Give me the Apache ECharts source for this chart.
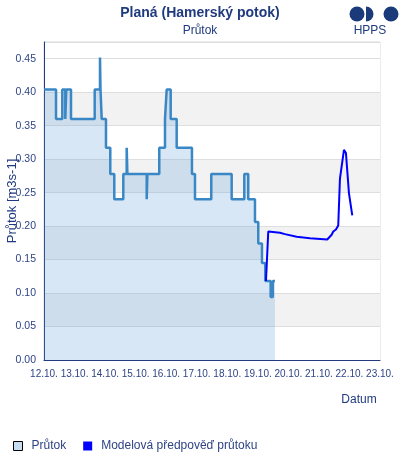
<!DOCTYPE html>
<html><head><meta charset="utf-8">
<script src="https://cdn.jsdelivr.net/npm/echarts@6/dist/echarts.min.js"></script>
<style>html,body{margin:0;padding:0;background:#fff}#c{width:400px;height:460px}</style>
</head><body><div id="c"></div>
<script>
// Observed discharge (day of October, value m3/s) - step changes
const obsDays = [12.000, 12.393, 12.599, 12.697, 12.730, 12.884, 13.660, 13.833, 13.850, 13.889, 14.029, 14.170, 14.301, 14.596, 14.707, 14.730, 15.362, 15.385, 15.774, 15.961, 16.016, 16.147, 16.344, 16.844, 16.943, 17.476, 18.144, 18.557, 18.687, 18.907, 19.015, 19.136, 19.244, 19.420, 19.490, 19.561];
const obsVals = [0.404, 0.360, 0.404, 0.360, 0.404, 0.360, 0.404, 0.452, 0.404, 0.360, 0.317, 0.278, 0.240, 0.278, 0.317, 0.278, 0.240, 0.278, 0.317, 0.360, 0.404, 0.360, 0.317, 0.278, 0.240, 0.278, 0.240, 0.278, 0.240, 0.206, 0.174, 0.145, 0.118, 0.094, 0.118, 0.118];
// Model forecast
const fcDays = [19.267, 19.342, 19.725, 19.889, 20.272, 20.707, 21.273, 21.417, 21.470, 21.558, 21.613, 21.633, 21.689, 21.820, 21.885, 21.984, 22.092];
const fcVals = [0.118, 0.192, 0.190, 0.188, 0.184, 0.182, 0.180, 0.187, 0.192, 0.195, 0.194, 0.201, 0.271, 0.314, 0.309, 0.249, 0.216];
const xTickDays = [12, 13, 14, 15, 16, 17, 18, 19, 20, 21, 22, 23];
const seriesNames = ['Průtok', 'Modelová předpověď průtoku'];

const navy = '#1f3a7d';
const labelColor = '#2f4485';
const font = 'Liberation Sans, Arial, sans-serif';

const chart = echarts.init(document.getElementById('c'), null, {renderer: 'canvas'});
chart.setOption({
  animation: false,
  backgroundColor: '#fff',
  title: {
    text: 'Planá (Hamerský potok)',
    subtext: 'Průtok',
    left: 'center',
    top: 1,
    itemGap: 5,
    textStyle: {color: navy, fontSize: 14, fontWeight: 'bold', fontFamily: font},
    subtextStyle: {color: navy, fontSize: 12, fontFamily: font}
  },
  grid: {left: 44, right: 20, top: 42, bottom: 100, containLabel: false, outerBoundsMode: 'none', show: true, borderColor: '#d9d9d9', borderWidth: 1, backgroundColor: 'transparent'},
  legend: {
    left: 8, top: 435,
    itemWidth: 9, itemHeight: 9, itemGap: 17,
    textStyle: {color: labelColor, fontSize: 12, fontFamily: font, padding: [0, 0, 0, 4]},
    data: [
      {name: seriesNames[0], icon: 'rect', itemStyle: {color: '#c6dcf0', borderColor: '#000', borderWidth: 1}},
      {name: seriesNames[1], icon: 'rect', itemStyle: {color: '#0000ff', borderWidth: 0}}
    ]
  },
  xAxis: {
    type: 'value', min: xTickDays[0], max: xTickDays[xTickDays.length - 1], interval: 1,
    axisLine: {show: true, lineStyle: {color: navy, width: 1}},
    axisTick: {show: false},
    splitLine: {show: false},
    axisLabel: {color: labelColor, fontSize: 10, fontFamily: font, margin: 9, showMinLabel: true, showMaxLabel: true, hideOverlap: false, formatter: v => v + '.10.'}
  },
  yAxis: {
    type: 'value', min: 0, max: 0.475, interval: 0.05,
    name: 'Průtok [m3s-1]', nameLocation: 'middle', nameGap: 25, nameMoveOverlap: false,
    nameTextStyle: {color: navy, fontSize: 13, fontFamily: font},
    axisLine: {show: true, lineStyle: {color: navy, width: 1}},
    axisTick: {show: false},
    axisLabel: {color: labelColor, fontSize: 10.5, fontFamily: font, margin: 8, showMaxLabel: false, formatter: v => v.toFixed(2)},
    splitLine: {show: true, lineStyle: {color: '#dedede', width: 1}},
    splitArea: {show: true, areaStyle: {color: ['#ffffff', '#f2f2f2', '#ffffff', '#f2f2f2', '#ffffff', '#f2f2f2', '#ffffff', '#f2f2f2', '#ffffff', '#ffffff']}}
  },
  series: [
    {
      name: seriesNames[0], type: 'line', step: 'end', showSymbol: false, symbol: 'none',
      data: obsDays.map((d, i) => [d, obsVals[i]]),
      lineStyle: {color: '#3a87c5', width: 2.5},
      itemStyle: {color: '#c6dcf0'},
      areaStyle: {color: 'rgba(95,158,215,0.35)', origin: 'start'},
      z: 2
    },
    {
      name: seriesNames[1], type: 'line', showSymbol: false, symbol: 'none',
      data: fcDays.map((d, i) => [d, fcVals[i]]),
      lineStyle: {color: '#0000ff', width: 2},
      itemStyle: {color: '#0000ff'},
      z: 3
    }
  ],
  graphic: [
    {type: 'circle', shape: {cx: 357, cy: 14, r: 7.5}, style: {fill: '#1a3a7a'}},
    {type: 'sector', shape: {cx: 366, cy: 14, r: 7.5, startAngle: -Math.PI / 2, endAngle: Math.PI / 2}, style: {fill: '#1a3a7a'}},
    {type: 'circle', shape: {cx: 391, cy: 14, r: 7.5}, style: {fill: '#1a3a7a'}},
    {type: 'text', x: 370, y: 31, style: {text: 'HPPS', fill: navy, fontSize: 12, fontFamily: font, align: 'center', verticalAlign: 'middle'}},
    {type: 'text', x: 359, y: 400, style: {text: 'Datum', fill: navy, fontSize: 12, fontFamily: font, align: 'center', verticalAlign: 'middle'}}
  ]
});
</script></body></html>
